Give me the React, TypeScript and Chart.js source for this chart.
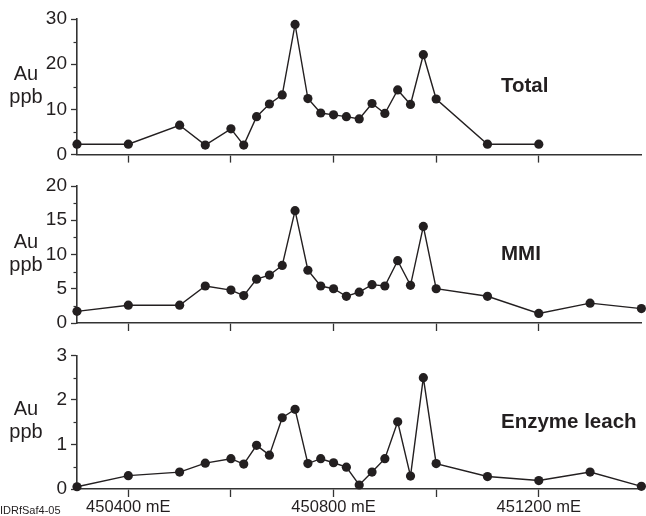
import React, { useEffect, useRef } from 'react';
import { Chart, registerables } from 'chart.js';

Chart.register(...registerables);

const FONT = '"Liberation Sans", Arial, Helvetica, sans-serif';
const INK = '#231f20';
const AXIS = '#333333';

// Sample positions (m Easting)
const eastingsTotal = [
  450300, 450400, 450500, 450550, 450600, 450625, 450650, 450675, 450700, 450725, 450750, 450775,
  450800, 450825, 450850, 450875, 450900, 450925, 450950, 450975, 451000, 451100, 451200,
];
const eastings = [
  450300, 450400, 450500, 450550, 450600, 450625, 450650, 450675, 450700, 450725, 450750, 450775,
  450800, 450825, 450850, 450875, 450900, 450925, 450950, 450975, 451000, 451100, 451200, 451300, 451400,
];

// Au ppb values
const totalAu = [
  2.3, 2.3, 6.5, 2.1, 5.7, 2.1, 8.4, 11.2, 13.2, 28.8, 12.4, 9.2,
  8.8, 8.4, 7.9, 11.3, 9.1, 14.3, 11.1, 22.1, 12.3, 2.3, 2.3,
];
const mmiAu = [
  1.7, 2.6, 2.6, 5.4, 4.8, 4.0, 6.4, 7.0, 8.4, 16.4, 7.7, 5.4,
  5.0, 3.9, 4.5, 5.6, 5.4, 9.1, 5.5, 14.1, 5.0, 3.9, 1.4, 2.9, 2.1,
];
const enzymeAu = [
  0.05, 0.3, 0.38, 0.58, 0.68, 0.56, 0.98, 0.76, 1.6, 1.79, 0.57, 0.68,
  0.59, 0.49, 0.09, 0.38, 0.68, 1.51, 0.29, 2.5, 0.57, 0.28, 0.19, 0.38, 0.06,
];

const panelNames = ['Total', 'MMI', 'Enzyme leach'];
const yMaxes = [30, 20, 3];
const ySteps = [10, 5, 1];

const X_MIN = 450300;
const X_MAX = 451400;
const xTickValues = [450400, 450600, 450800, 451000, 451200];
const xLabelled = [450400, 450800, 451200];
const footnote = 'IDRfSaf4-05';

type PanelProps = {
  top: number;
  height: number;
  padTop: number;
  axisH: number;
  xs: number[];
  ys: number[];
  yMax: number;
  yStep: number;
  name: string;
  showLabels: boolean;
};

function Panel(props: PanelProps) {
  const ref = useRef<HTMLCanvasElement | null>(null);
  useEffect(() => {
    const canvas = ref.current;
    if (!canvas) return;
    const { xs, ys, yMax, yStep, name, showLabels, padTop, axisH } = props;
    const decor = {
      id: 'decor',
      afterDraw(chart: any) {
        const ctx = chart.ctx;
        const y = chart.scales.y;
        const area = chart.chartArea;
        ctx.save();
        // minor ticks
        ctx.strokeStyle = AXIS;
        ctx.lineWidth = 1.2;
        for (let v = yStep / 2; v < yMax; v += yStep) {
          const py = Math.round(y.getPixelForValue(v)) + 0.5;
          ctx.beginPath();
          ctx.moveTo(area.left - 3.5, py);
          ctx.lineTo(area.left, py);
          ctx.stroke();
        }
        const mid = (area.top + area.bottom) / 2;
        ctx.fillStyle = INK;
        ctx.textAlign = 'center';
        ctx.textBaseline = 'alphabetic';
        ctx.font = `20px ${FONT}`;
        ctx.fillText('Au', 26, mid - 7);
        ctx.fillText('ppb', 26, mid + 16);
        ctx.textAlign = 'left';
        ctx.textBaseline = 'middle';
        ctx.font = `bold 20.5px ${FONT}`;
        ctx.fillText(name, 501, mid);
        if (showLabels) {
          ctx.font = `11px ${FONT}`;
          ctx.textBaseline = 'alphabetic';
          ctx.fillText(footnote, 0, chart.height - 2);
        }
        ctx.restore();
      },
    };
    const chart = new Chart(canvas, {
      type: 'line',
      data: {
        datasets: [
          {
            data: xs.map((x, i) => ({ x, y: ys[i] })),
            borderColor: INK,
            borderWidth: 1.4,
            backgroundColor: INK,
            pointBackgroundColor: INK,
            pointBorderWidth: 0,
            pointRadius: 4.6,
            pointHoverRadius: 4.6,
            tension: 0,
            clip: false as any,
          },
        ],
      },
      options: {
        animation: false,
        responsive: false,
        maintainAspectRatio: false,
        events: [],
        layout: { padding: { top: padTop, right: 3, left: 0, bottom: 0 } },
        plugins: { legend: { display: false }, tooltip: { enabled: false } },
        scales: {
          x: {
            type: 'linear',
            min: X_MIN,
            max: X_MAX,
            afterBuildTicks: (s: any) => {
              s.ticks = xTickValues.map((v) => ({ value: v }));
            },
            afterFit: (s: any) => {
              s.height = axisH;
            },
            grid: {
              drawOnChartArea: false,
              drawTicks: true,
              tickLength: 8,
              tickColor: AXIS,
              tickWidth: 1.3,
            },
            border: { display: true, color: AXIS, width: 1.6 },
            ticks: {
              autoSkip: false,
              maxRotation: 0,
              minRotation: 0,
              padding: 1,
              color: INK,
              font: { family: FONT, size: 16.5 },
              callback: (v: any) => (showLabels && xLabelled.includes(Number(v)) ? `${v} mE` : ''),
            },
          },
          y: {
            type: 'linear',
            min: 0,
            max: yMax,
            afterFit: (s: any) => {
              s.width = 77;
            },
            grid: {
              drawOnChartArea: false,
              drawTicks: true,
              tickLength: 6,
              tickColor: AXIS,
              tickWidth: 1.3,
            },
            border: { display: true, color: AXIS, width: 1.6 },
            ticks: {
              stepSize: yStep,
              padding: 4,
              color: INK,
              font: { family: FONT, size: 19 },
            },
          },
        },
      },
      plugins: [decor],
    });
    return () => chart.destroy();
  }, []);
  return (
    <canvas
      ref={ref}
      width={646}
      height={props.height}
      style={{ position: 'absolute', left: 0, top: props.top, width: 646, height: props.height, display: 'block' }}
    />
  );
}

export default function App() {
  return (
    <div style={{ position: 'absolute', left: 0, top: 0, width: 646, height: 516, background: '#fff', overflow: 'hidden' }}>
      <Panel top={0} height={170} padTop={19} axisH={15} xs={eastingsTotal} ys={totalAu} yMax={yMaxes[0]} yStep={ySteps[0]} name={panelNames[0]} showLabels={false} />
      <Panel top={170} height={170} padTop={16} axisH={17} xs={eastings} ys={mmiAu} yMax={yMaxes[1]} yStep={ySteps[1]} name={panelNames[1]} showLabels={false} />
      <Panel top={340} height={176} padTop={13} axisH={27} xs={eastings} ys={enzymeAu} yMax={yMaxes[2]} yStep={ySteps[2]} name={panelNames[2]} showLabels={true} />
    </div>
  );
}
